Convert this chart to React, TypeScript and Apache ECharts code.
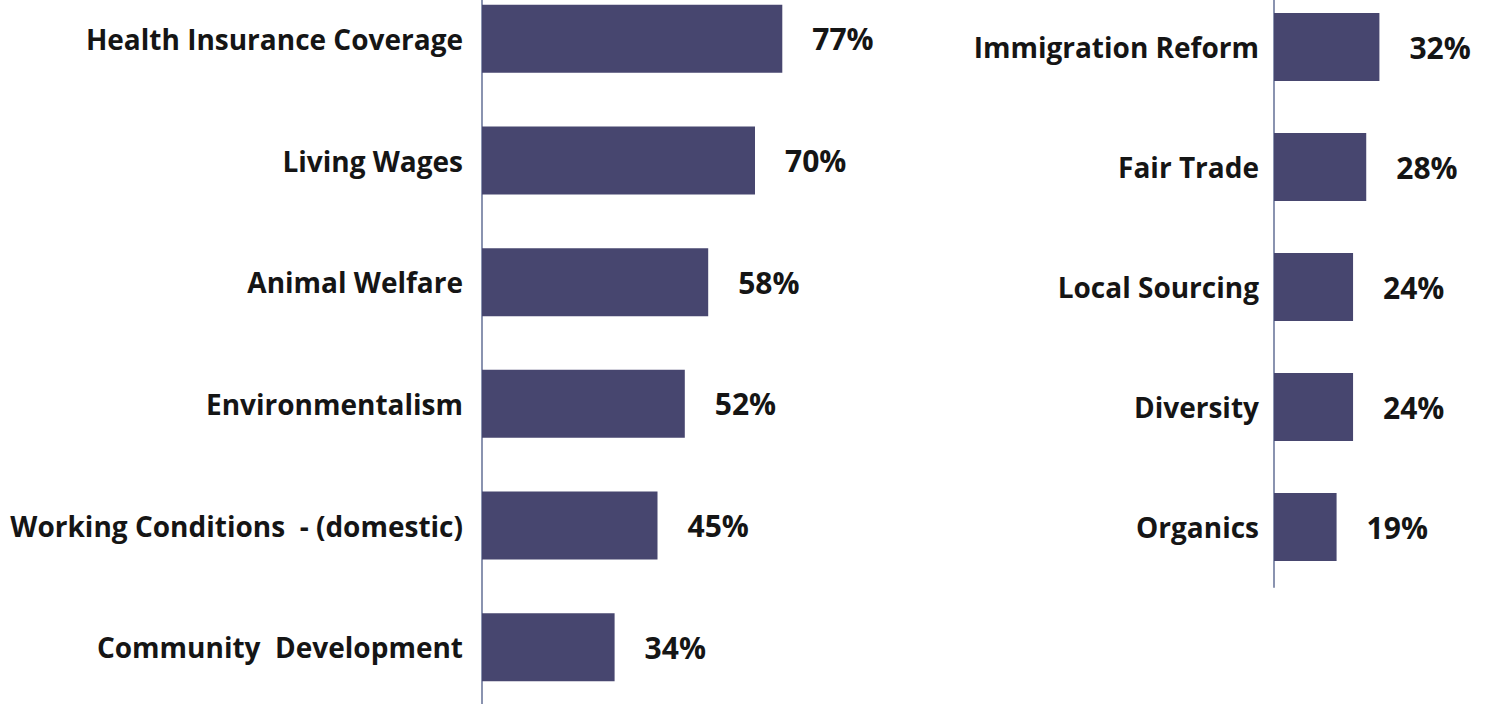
import React, { useEffect, useRef } from "react";
import * as echarts from "echarts";

const leftCategories = [
  "Health Insurance Coverage",
  "Living Wages",
  "Animal Welfare",
  "Environmentalism",
  "Working Conditions  - (domestic)",
  "Community  Development",
];
const leftValues = [77, 70, 58, 52, 45, 34];

const rightCategories = [
  "Immigration Reform",
  "Fair Trade",
  "Local Sourcing",
  "Diversity",
  "Organics",
];
const rightValues = [32, 28, 24, 24, 19];

const BAR = "#47466f";
const AXIS = "#8a93b0";
const FONT = "'Open Sans', 'Noto Sans', sans-serif";
const SHIFT = 22;

export default function App() {
  const ref = useRef<HTMLDivElement>(null);
  useEffect(() => {
    if (!ref.current) return;
    const chart = echarts.init(ref.current, undefined, { renderer: "svg" });
    const catAxis = (data: string[], gridIndex: number, margin: number) => ({
      type: "category",
      gridIndex,
      data,
      inverse: true,
      axisLine: { show: true, lineStyle: { color: AXIS, width: 2 } },
      axisTick: { show: false },
      axisLabel: {
        margin,
        fontFamily: FONT,
        fontWeight: "bold",
        fontSize: 28,
        color: "#151515",
      },
    });
    const valAxis = (gridIndex: number, max: number) => ({
      type: "value",
      gridIndex,
      min: 0,
      max,
      show: false,
      splitLine: { show: false },
    });
    const label = {
      show: true,
      position: "right",
      distance: 30,
      formatter: "{c}%",
      fontFamily: FONT,
      fontWeight: "bold",
      fontSize: 30,
      color: "#151515",
    };
    chart.setOption({
      animation: false,
      backgroundColor: "#ffffff",
      grid: [
        { left: 482, top: 0, width: 390, height: 730 },
        { left: 1274, top: SHIFT - 13, width: 224, height: 600 },
      ],
      xAxis: [valAxis(0, 100), valAxis(1, 68)],
      yAxis: [catAxis(leftCategories, 0, 19), catAxis(rightCategories, 1, 15)],
      series: [
        {
          type: "bar",
          xAxisIndex: 0,
          yAxisIndex: 0,
          data: leftValues,
          barWidth: 68,
          itemStyle: { color: BAR },
          label,
        },
        {
          type: "bar",
          xAxisIndex: 1,
          yAxisIndex: 1,
          data: rightValues,
          barWidth: 68,
          itemStyle: { color: BAR },
          label,
        },
      ],
    });
    return () => chart.dispose();
  }, []);
  return (
    <div
      ref={ref}
      style={{ position: "fixed", left: 0, top: -SHIFT, width: 1498, height: 760 }}
    />
  );
}
